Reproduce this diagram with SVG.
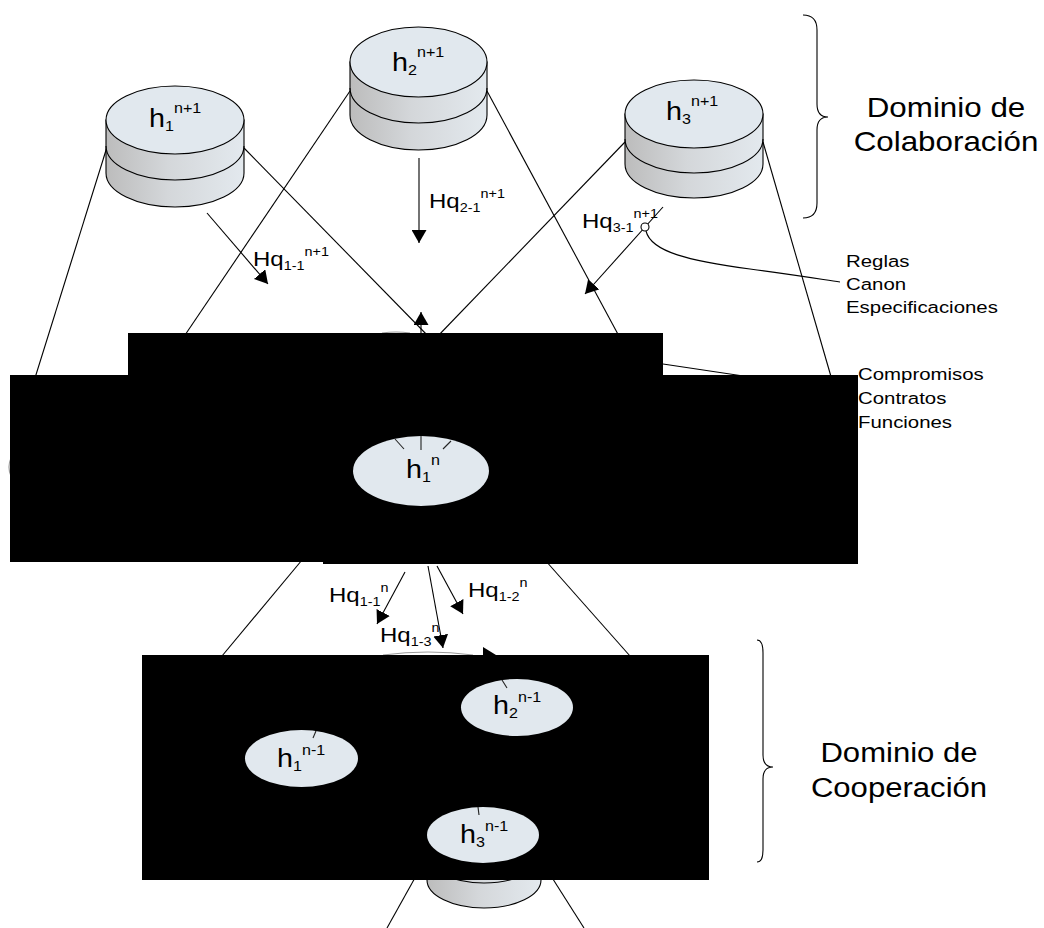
<svg xmlns="http://www.w3.org/2000/svg" width="1044" height="928" viewBox="0 0 1044 928">
<style>
.t{font-family:"Liberation Sans",Arial,sans-serif;fill:#000}
.hl{font-size:25px}
.hq{font-size:20px}
.s{font-size:14px}
.ss{font-size:12px}
.lab{font-size:17px}
.big{font-size:28px;text-anchor:middle}
.ln{stroke:#000;stroke-width:1.1;fill:none}
.cyl{stroke:#000;stroke-width:1.1}
.top{fill:#e1e8ee;stroke:#000;stroke-width:1.1}
.el{fill:#e1e8ee;stroke:none}
.blk{fill:#000}
.tick{stroke:#222;stroke-width:1.1}
.faint{stroke:#9a9a9a;stroke-width:1.2;fill:none}
</style>
<defs>
<linearGradient id="side" x1="0" y1="0" x2="1" y2="0">
<stop offset="0" stop-color="#bcbcbc"/>
<stop offset="0.45" stop-color="#d4d7da"/>
<stop offset="1" stop-color="#e3e9ee"/>
</linearGradient>
<marker id="ah" viewBox="0 0 13 15" refX="13" refY="7.5" markerWidth="13" markerHeight="15" markerUnits="userSpaceOnUse" orient="auto">
<path d="M0,0 L13,7.5 L0,15 Z" fill="#000"/>
</marker>
</defs>
<rect width="1044" height="928" fill="#fff"/>

<g id="connectors">
<!-- cone lines from cylinders -->
<line class="ln" x1="107" y1="147" x2="35" y2="378"/>
<line class="ln" x1="244" y1="148" x2="430" y2="338"/>
<line class="ln" x1="350" y1="91" x2="183" y2="338"/>
<line class="ln" x1="487" y1="91" x2="620" y2="338"/>
<line class="ln" x1="625" y1="142" x2="436" y2="338"/>
<line class="ln" x1="763" y1="142" x2="832" y2="380"/>
<line class="ln" x1="663" y1="364" x2="750" y2="377"/>
<!-- arrows -->
<line class="ln" x1="207" y1="213" x2="268" y2="284" marker-end="url(#ah)"/>
<line class="ln" x1="419" y1="158" x2="419" y2="243" marker-end="url(#ah)"/>
<line class="ln" x1="663" y1="207" x2="585" y2="294" marker-end="url(#ah)"/>
<line class="ln" x1="421" y1="336" x2="421" y2="312" marker-end="url(#ah)"/>
<path class="ln" d="M646,231 C651,252 690,261 750,269 S825,280 840,282"/>
<circle cx="645" cy="227" r="4" fill="#fff" stroke="#000" stroke-width="1.1"/>
<path class="faint" d="M382,333 Q396,331 410,333"/>
<!-- below box 2 -->
<line class="ln" x1="302" y1="560" x2="222" y2="656"/>
<line class="ln" x1="545" y1="560" x2="630" y2="656"/>
<line class="ln" x1="405" y1="572" x2="377" y2="624" marker-end="url(#ah)"/>
<line class="ln" x1="437" y1="566" x2="463" y2="614" marker-end="url(#ah)"/>
<line class="ln" x1="428" y1="566" x2="443" y2="648" marker-end="url(#ah)"/>
<path class="faint" d="M383,655 Q428,649 473,655"/>
<path d="M483,647 L496,655 L483,655 Z" fill="#000"/>
<!-- below box 3 -->
<line class="ln" x1="416" y1="876" x2="387" y2="928"/>
<line class="ln" x1="551" y1="876" x2="584" y2="928"/>
<!-- braces -->
<path class="ln" d="M803,15 Q817,15 817,30 L817,104 Q817,117 828,117 Q817,117 817,130 L817,203 Q817,218 803,218"/>
<path class="ln" d="M757,640 Q763,640 763,653 L763,755 Q763,767 773,767 Q763,767 763,779 L763,850 Q763,862 757,862"/>
<path class="faint" d="M11,458 Q7,467 11,476"/>
</g>

<g id="node-h1-np1">
<path class="cyl" fill="url(#side)" d="M106,120 L106,173 A69,34 0 0 0 244,173 L244,120 Z"/>
<path class="ln" d="M106,146 A69,34 0 0 0 244,146"/>
<ellipse class="top" cx="175" cy="120" rx="69" ry="34"/>
<text class="t hl" transform="translate(149,127) scale(1.15,1)">h<tspan class="s" dy="4">1</tspan><tspan class="s" dy="-18">n+1</tspan></text>
</g>

<g id="node-h2-np1">
<path class="cyl" fill="url(#side)" d="M350,62 L350,115 A68.5,35 0 0 0 487,115 L487,62 Z"/>
<path class="ln" d="M350,88 A68.5,35 0 0 0 487,88"/>
<ellipse class="top" cx="418.5" cy="62" rx="68.5" ry="35"/>
<text class="t hl" transform="translate(392,71) scale(1.15,1)">h<tspan class="s" dy="4">2</tspan><tspan class="s" dy="-18">n+1</tspan></text>
</g>

<g id="node-h3-np1">
<path class="cyl" fill="url(#side)" d="M625,114 L625,164 A69,34 0 0 0 763,164 L763,114 Z"/>
<path class="ln" d="M625,139 A69,34 0 0 0 763,139"/>
<ellipse class="top" cx="694" cy="114" rx="69" ry="34"/>
<text class="t hl" transform="translate(666,120) scale(1.15,1)">h<tspan class="s" dy="4">3</tspan><tspan class="s" dy="-18">n+1</tspan></text>
</g>

<g id="node-bottom-cyl">
<path class="cyl" fill="url(#side)" d="M427,830 L427,880 A57,28 0 0 0 541,880 L541,830 Z"/>
<path class="ln" d="M427,855 A57,28 0 0 0 541,855"/>
</g>

<g id="black-boxes">
<rect class="blk" x="128" y="333" width="535" height="46"/>
<rect class="blk" x="10" y="375" width="848" height="187"/>
<rect class="blk" x="323" y="375" width="535" height="189"/>
<rect class="blk" x="142" y="655" width="567" height="225"/>
</g>

<g id="node-h1-n">
<ellipse class="el" cx="421" cy="471" rx="68" ry="35"/>
<line class="tick" x1="395" y1="439" x2="404" y2="449"/>
<line class="tick" x1="421" y1="436" x2="421" y2="450"/>
<line class="tick" x1="451" y1="441" x2="443" y2="449"/>
<text class="t hl" transform="translate(406,478) scale(1.15,1)">h<tspan class="s" dy="4">1</tspan><tspan class="s" dy="-17">n</tspan></text>
</g>

<g id="node-h2-nm1">
<ellipse class="el" cx="517" cy="707.5" rx="56" ry="28.5"/>
<line class="tick" x1="502" y1="680" x2="507" y2="688"/>
<text class="t hl" transform="translate(493,714) scale(1.15,1)">h<tspan class="s" dy="4">2</tspan><tspan class="s" dy="-16">n-1</tspan></text>
</g>

<g id="node-h1-nm1">
<ellipse class="el" cx="301.5" cy="758.5" rx="56.5" ry="28.5"/>
<line class="tick" x1="316" y1="731" x2="313" y2="738"/>
<text class="t hl" transform="translate(277,767) scale(1.15,1)">h<tspan class="s" dy="4">1</tspan><tspan class="s" dy="-16">n-1</tspan></text>
</g>

<g id="node-h3-nm1">
<ellipse class="el" cx="483" cy="835" rx="56" ry="28"/>
<line class="tick" x1="478" y1="807" x2="479" y2="815"/>
<text class="t hl" transform="translate(460,843) scale(1.15,1)">h<tspan class="s" dy="4">3</tspan><tspan class="s" dy="-16">n-1</tspan></text>
</g>

<g id="labels">
<text class="t hq" transform="translate(253,266) scale(1.2,1)">Hq<tspan class="ss" dy="4">1-1</tspan><tspan class="ss" dy="-14">n+1</tspan></text>
<text class="t hq" transform="translate(429,208) scale(1.2,1)">Hq<tspan class="ss" dy="4">2-1</tspan><tspan class="ss" dy="-14">n+1</tspan></text>
<text class="t hq" transform="translate(582,228) scale(1.2,1)">Hq<tspan class="ss" dy="4">3-1</tspan><tspan class="ss" dy="-14">n+1</tspan></text>
<text class="t hq" transform="translate(329,602) scale(1.2,1)">Hq<tspan class="ss" dy="4">1-1</tspan><tspan class="ss" dy="-14">n</tspan></text>
<text class="t hq" transform="translate(468,597) scale(1.2,1)">Hq<tspan class="ss" dy="4">1-2</tspan><tspan class="ss" dy="-14">n</tspan></text>
<text class="t hq" transform="translate(380,642) scale(1.2,1)">Hq<tspan class="ss" dy="4">1-3</tspan><tspan class="ss" dy="-14">n</tspan></text>

<text class="t lab" transform="translate(846,267) scale(1.2,1)">Reglas</text>
<text class="t lab" transform="translate(846,290) scale(1.2,1)">Canon</text>
<text class="t lab" transform="translate(846,313) scale(1.2,1)">Especificaciones</text>
<text class="t lab" transform="translate(858,380) scale(1.2,1)">Compromisos</text>
<text class="t lab" transform="translate(858,404) scale(1.2,1)">Contratos</text>
<text class="t lab" transform="translate(858,428) scale(1.2,1)">Funciones</text>

<text class="t big" transform="translate(946,117) scale(1.12,1)">Dominio de</text>
<text class="t big" transform="translate(946,151) scale(1.12,1)">Colaboración</text>
<text class="t big" transform="translate(899,762) scale(1.11,1)">Dominio de</text>
<text class="t big" transform="translate(899,797) scale(1.11,1)">Cooperación</text>
</g>
</svg>
